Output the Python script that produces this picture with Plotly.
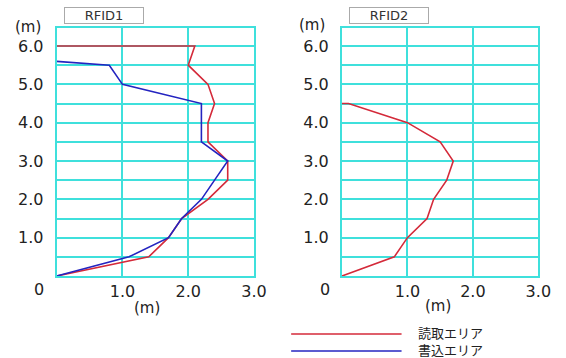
import plotly.graph_objects as go

# RFID1 data (x = distance [m], y = height [m])
rfid1_read_x = [0, 2.1, 2.0, 2.3, 2.4, 2.3, 2.3, 2.6, 2.6, 2.3, 1.9, 1.7, 1.4, 0]
rfid1_read_y = [6.0, 6.0, 5.5, 5.0, 4.5, 4.0, 3.5, 3.0, 2.5, 2.0, 1.5, 1.0, 0.5, 0]
rfid1_write_x = [0, 0.8, 1.0, 2.2, 2.2, 2.6, 2.4, 2.2, 1.9, 1.7, 1.1, 0]
rfid1_write_y = [5.6, 5.5, 5.0, 4.5, 3.5, 3.0, 2.5, 2.0, 1.5, 1.0, 0.5, 0]
# RFID2 data
rfid2_read_x = [0, 0.1, 1.0, 1.5, 1.7, 1.6, 1.4, 1.3, 1.0, 0.8, 0]
rfid2_read_y = [4.5, 4.5, 4.0, 3.5, 3.0, 2.5, 2.0, 1.5, 1.0, 0.5, 0]

titles = ["RFID1", "RFID2"]
legend_names = ["読取エリア", "書込エリア"]
y_tickvals = [0, 0.5, 1, 1.5, 2, 2.5, 3, 3.5, 4, 4.5, 5, 5.5, 6]
y_ticktext = ["", "", "1.0", "", "2.0", "", "3.0", "", "4.0", "", "5.0", "", "6.0"]
x_tickvals = [0, 1, 2, 3]
x_ticktext = ["", "1.0", "2.0", "3.0"]

RED = "#d42a3a"
BLUE = "#2424c0"
GRID = "#3fe0dc"
W, H = 566, 358

fig = go.Figure()
fig.add_trace(go.Scatter(x=rfid1_read_x, y=rfid1_read_y, mode="lines",
                         line=dict(color=RED, width=1.6), xaxis="x", yaxis="y", showlegend=False))
fig.add_trace(go.Scatter(x=rfid1_write_x, y=rfid1_write_y, mode="lines",
                         line=dict(color=BLUE, width=1.6), xaxis="x", yaxis="y", showlegend=False))
fig.add_trace(go.Scatter(x=rfid2_read_x, y=rfid2_read_y, mode="lines",
                         line=dict(color=RED, width=1.6), xaxis="x2", yaxis="y2", showlegend=False))

def px(x):
    return x / W

def py(y):
    return 1 - y / H

tick_font = dict(family="DejaVu Sans", size=16, color="#222")
ax_common = dict(showgrid=True, gridcolor=GRID, gridwidth=2, zeroline=False,
                 showline=True, linecolor=GRID, linewidth=2, mirror=True,
                 ticks="", tickfont=tick_font, fixedrange=True)

fig.update_layout(
    width=W, height=H, margin=dict(l=0, r=0, t=0, b=0),
    paper_bgcolor="white", plot_bgcolor="white",
    xaxis=dict(domain=[px(58), px(260)], range=[0, 3], anchor="y",
               tickvals=x_tickvals, ticktext=x_ticktext, **ax_common),
    yaxis=dict(domain=[py(276), py(28)], range=[0, 6.47], anchor="x",
               tickvals=y_tickvals, ticktext=y_ticktext, ticklabelstandoff=8, **ax_common),
    xaxis2=dict(domain=[px(350), px(551)], range=[0, 3], anchor="y2",
                tickvals=x_tickvals, ticktext=x_ticktext, **ax_common),
    yaxis2=dict(domain=[py(276), py(28)], range=[0, 6.47], anchor="x2",
                tickvals=y_tickvals, ticktext=y_ticktext, ticklabelstandoff=8, **ax_common),
)

ann = []
# panel titles in boxes
for t, cx in zip(titles, [106, 398]):
    ann.append(dict(text=t, x=px(cx), y=py(16), xref="paper", yref="paper", showarrow=False,
                    xanchor="center", yanchor="middle",
                    font=dict(family="DejaVu Sans", size=13, color="#333"),
                    bordercolor="#aaa", borderwidth=1, width=76, height=13, bgcolor="white"))
# unit labels
for cx, cy in [(29, 27), (319, 25), (150, 308), (448, 306)]:
    ann.append(dict(text="(m)", x=px(cx), y=py(cy), xref="paper", yref="paper", showarrow=False,
                    xanchor="center", yanchor="middle",
                    font=dict(family="DejaVu Sans", size=15, color="#222")))
# origin "0" labels
for cx in [40, 333]:
    ann.append(dict(text="0", x=px(cx), y=py(289), xref="paper", yref="paper", showarrow=False,
                    xanchor="center", yanchor="middle", font=tick_font))
# legend (lines as shapes, both names in one two-line text)
shapes = []
for col, ly in zip([RED, BLUE], [334, 351]):
    shapes.append(dict(type="line", xref="paper", yref="paper", x0=px(298), x1=px(411),
                       y0=py(ly), y1=py(ly), line=dict(color=col, width=1.6)))
ann.append(dict(text="<br>".join(legend_names), x=px(426), y=py(341), xref="paper", yref="paper",
                showarrow=False, xanchor="left", yanchor="middle", align="left",
                font=dict(family="Noto Sans CJK JP", size=13, color="#222")))

fig.update_layout(annotations=ann, shapes=shapes)
fig.write_html(
    "out.html",
    config={"displayModeBar": False},
    post_script="document.documentElement.style.margin='0';document.body.style.margin='0';"
                "document.body.style.overflow='hidden';window.scrollTo(0,0);",
)
